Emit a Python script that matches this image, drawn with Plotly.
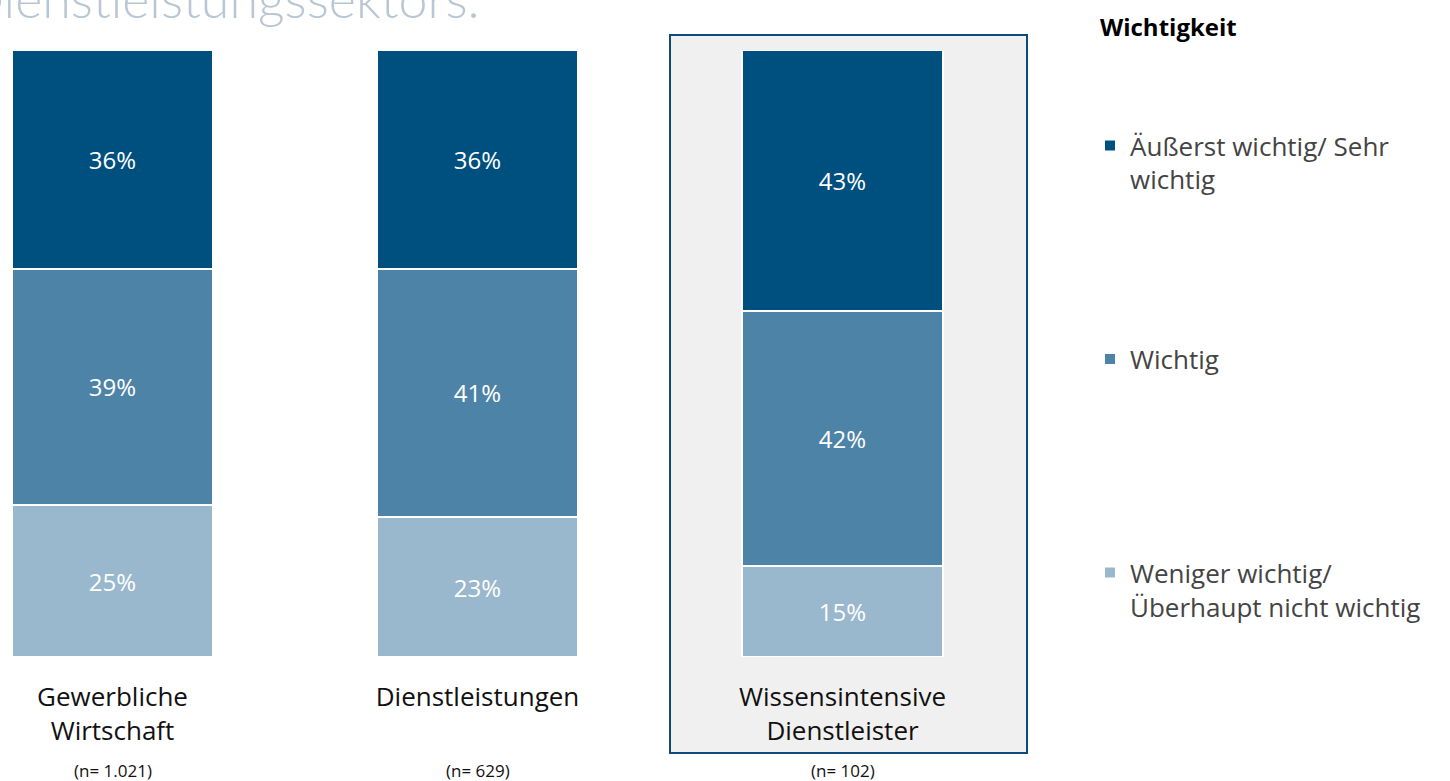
import plotly.graph_objects as go

categories = ["Gewerbliche<br>Wirtschaft", "Dienstleistungen", "Wissensintensive<br>Dienstleister"]
sample_sizes = ["(n= 1.021)", "(n= 629)", "(n= 102)"]
series_names = ["Äußerst wichtig/ Sehr<br>wichtig", "Wichtig<br> ", "Weniger wichtig/<br>Überhaupt nicht wichtig"]
series_values = {
    "top": [36, 36, 43],
    "mid": [39, 41, 42],
    "low": [25, 23, 15],
}
series_colors = ["#00507F", "#4E83A8", "#9AB8CD"]
legend_title = "Wichtigkeit"
page_title = "Digitalisierung des Dienstleistungssektors."

FONT = "Open Sans"
xpos = [0, 1, 2]

fig = go.Figure()
order = [("low", 2), ("mid", 1), ("top", 0)]
for key, idx in order:
    vals = series_values[key]
    fig.add_trace(go.Bar(
        x=xpos, y=vals, name=series_names[idx],
        marker=dict(color=series_colors[idx], line=dict(color="white", width=2)),
        text=[f"{v}%" for v in vals], textposition="inside", insidetextanchor="middle",
        textfont=dict(color="white", size=24, family=FONT),
        width=0.55, legendgroup=key, legendrank=idx + 1,
    ))

# shaded highlight box behind third bar
fig.add_shape(type="rect", xref="paper", yref="paper",
              x0=670/1050, x1=1027/1050, y0=-96/607, y1=1 + 15/607,
              fillcolor="#F0F0F0", line=dict(color="#0E4A7C", width=2), layer="below")

for i, n in enumerate(sample_sizes):
    fig.add_annotation(x=xpos[i], y=-113/607, xref="x", yref="paper", text=n,
                       showarrow=False, font=dict(size=17, color="#111111", family=FONT),
                       xanchor="center", yanchor="middle")

fig.add_annotation(x=482/1050, y=1 + 19/607, xref="paper", yref="paper", text=page_title,
                   showarrow=False, xanchor="right", yanchor="bottom",
                   font=dict(size=52, color="#B9C6D4", family="Lato", weight=300))

fig.add_annotation(x=1098/1050, y=1 + 23/607, xref="paper", yref="paper", text=f"<b>{legend_title}</b>",
                   showarrow=False, xanchor="left", yanchor="middle",
                   font=dict(size=24, color="black", family=FONT))

fig.update_layout(
    width=1450, height=781,
    margin=dict(l=0, r=400, t=50, b=124),
    barmode="stack",
    paper_bgcolor="white", plot_bgcolor="rgba(0,0,0,0)",
    showlegend=True,
    legend=dict(
        x=1090/1450, xref="container", y=1 - 122/781, yref="container",
        xanchor="left", yanchor="top",
        traceorder="grouped", tracegroupgap=143, valign="top",
        font=dict(size=26, color="#444444", family=FONT),
        itemwidth=30, maxheight=700,
    ),
    xaxis=dict(range=[-112.5/365, (1050-112.5)/365], tickvals=xpos, ticktext=categories,
               showgrid=False, zeroline=False, showline=False, ticks="",
               tickfont=dict(size=26, color="#111111", family=FONT), ticklabelstandoff=22),
    yaxis=dict(range=[0, 100], visible=False),
    bargap=0.45,
)

fig.write_html("out.html", config={"displayModeBar": False},
               post_script="document.body.style.margin='0';")
